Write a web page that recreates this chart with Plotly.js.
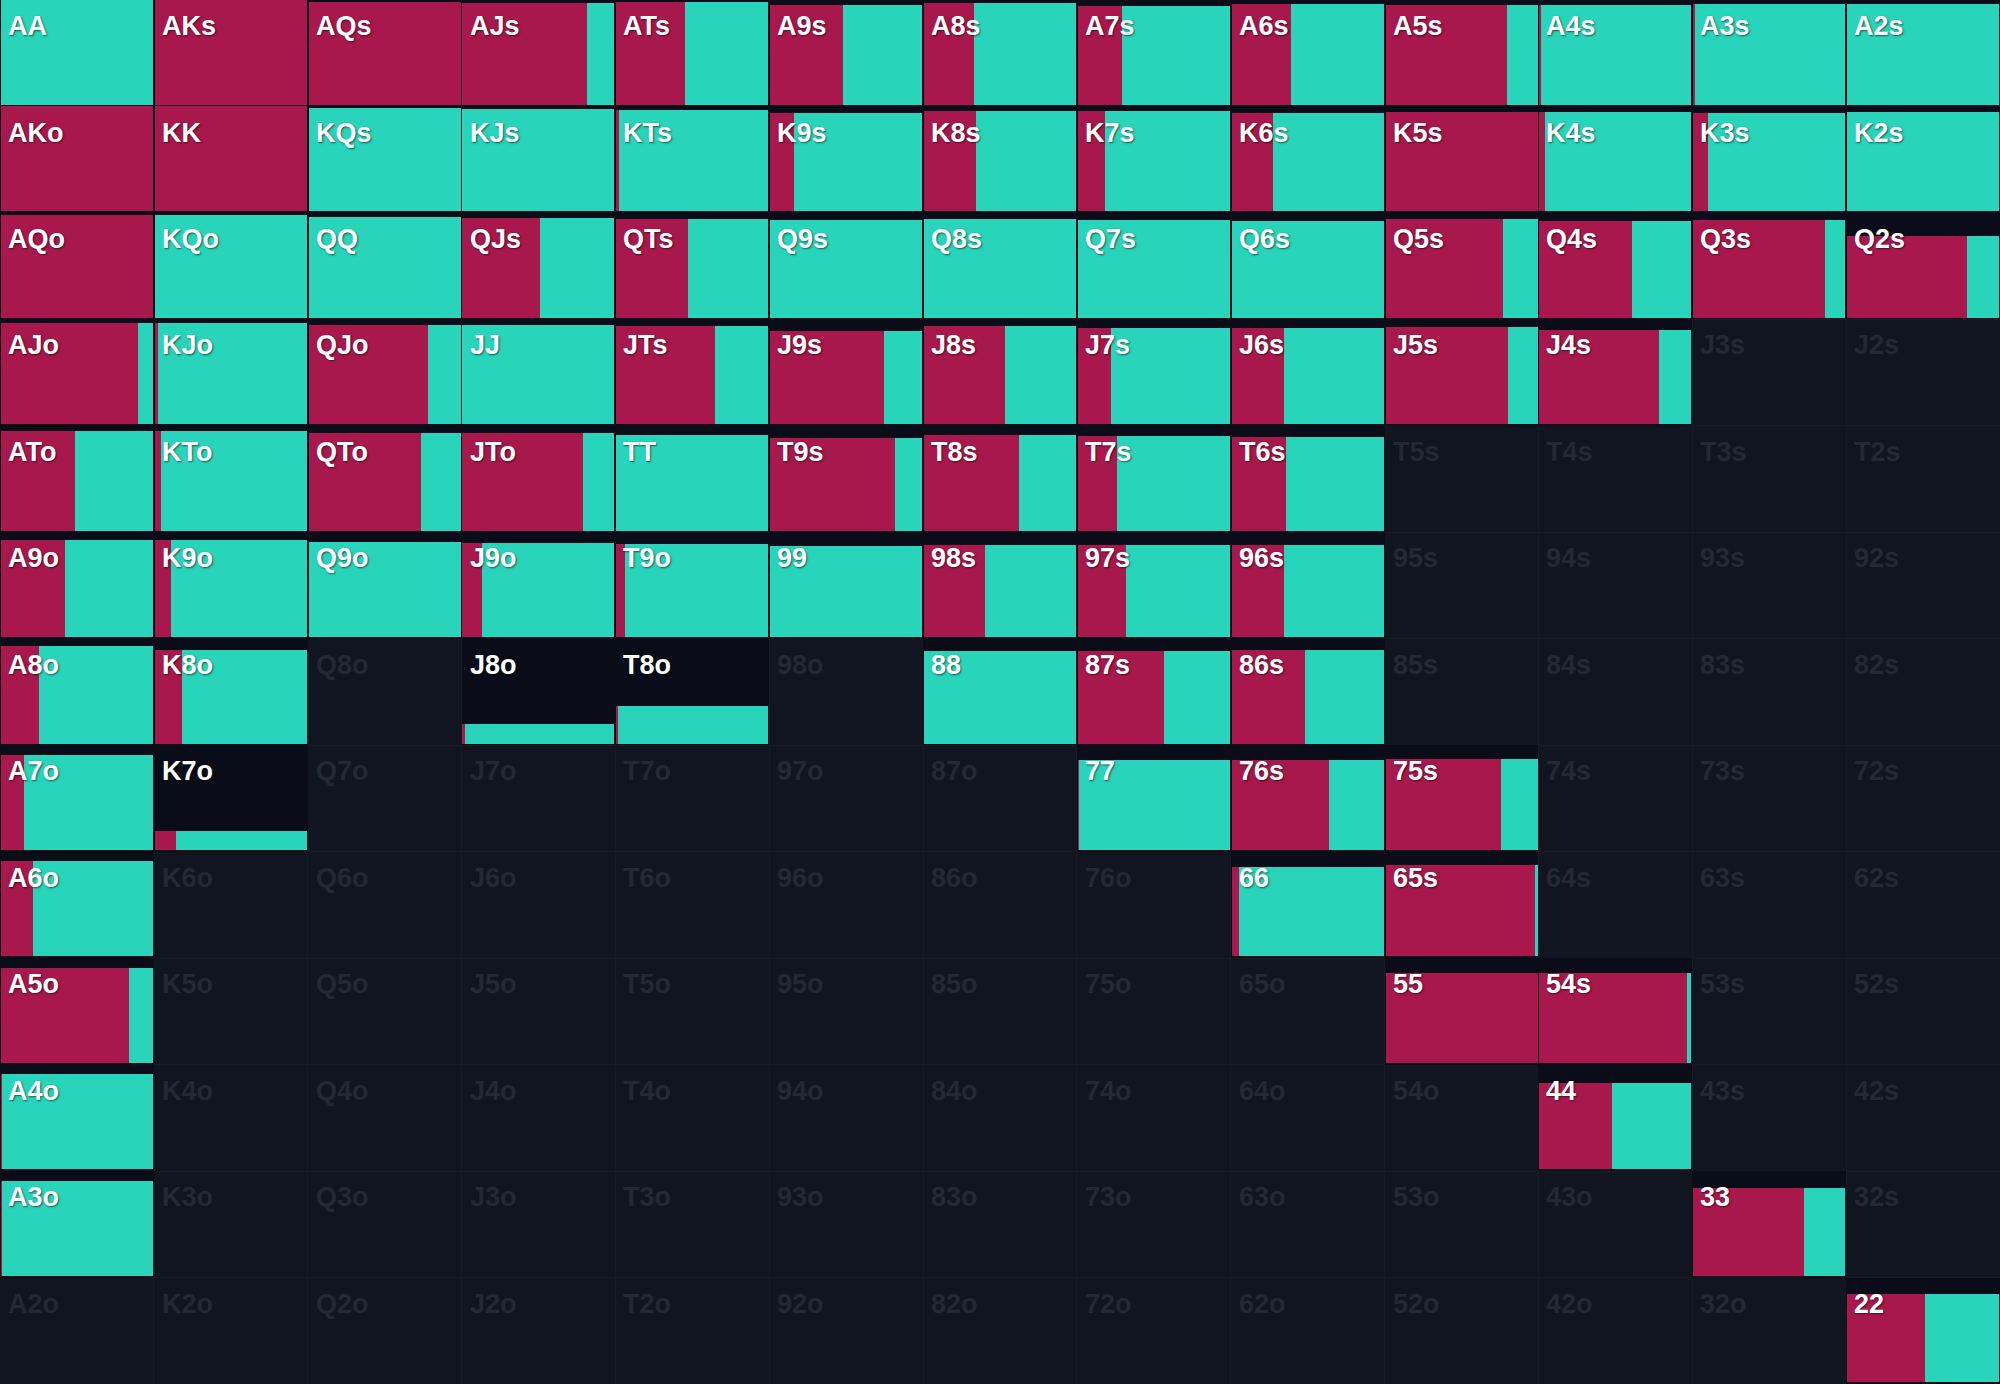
<!DOCTYPE html>
<html><head><meta charset="utf-8">
<script src="https://cdn.plot.ly/plotly-3.0.1.min.js"></script>
<style>html,body{margin:0;padding:0;background:#101520;}#chart{width:2000px;height:1384px;}</style>
</head><body><div id="chart"></div>
<script>
// Rank order of the 13x13 hand grid (rows and columns)
const ranks = ['A','K','Q','J','T','9','8','7','6','5','4','3','2'];

// Share of the hand that is played (bar height), 0 = not in range
const playFreq = [
  [1.00,1.00,0.98,0.97,0.98,0.95,0.97,0.94,0.96,0.95,0.95,0.96,0.96],
  [1.00,1.00,0.99,0.98,0.97,0.94,0.96,0.96,0.94,0.95,0.95,0.94,0.95],
  [0.98,0.98,0.96,0.95,0.94,0.93,0.94,0.93,0.92,0.94,0.92,0.93,0.78],
  [0.97,0.97,0.95,0.95,0.94,0.89,0.94,0.92,0.92,0.93,0.90,0,0],
  [0.95,0.95,0.93,0.93,0.91,0.88,0.91,0.90,0.89,0,0,0,0],
  [0.93,0.93,0.91,0.90,0.89,0.87,0.88,0.88,0.88,0,0,0,0],
  [0.93,0.89,0,0.19,0.36,0,0.88,0.88,0.89,0,0,0,0],
  [0.91,0.18,0,0,0,0,0,0.86,0.86,0.87,0,0,0],
  [0.91,0,0,0,0,0,0,0,0.85,0.87,0,0,0],
  [0.91,0,0,0,0,0,0,0,0,0.86,0.86,0,0],
  [0.91,0,0,0,0,0,0,0,0,0,0.82,0,0],
  [0.91,0,0,0,0,0,0,0,0,0,0,0.84,0],
  [0,0,0,0,0,0,0,0,0,0,0,0,0.84]
];

// Share of the played part that is a raise (red); the rest is a call (teal)
const raiseShare = [
  [0,1,1,0.82,0.45,0.48,0.33,0.29,0.39,0.80,0.01,0.01,0],
  [1,1,0,0,0.015,0.16,0.34,0.18,0.27,1,0.04,0.10,0],
  [1,0,0,0.51,0.47,0,0,0,0,0.77,0.61,0.87,0.79],
  [0.90,0.02,0.785,0,0.65,0.75,0.535,0.22,0.345,0.805,0.79,0,0],
  [0.49,0.04,0.74,0.79,0,0.82,0.625,0.255,0.36,0,0,0,0],
  [0.42,0.11,0,0.13,0.06,0,0.40,0.32,0.345,0,0,0,0],
  [0.25,0.18,0,0.015,0.01,0,0,0.57,0.48,0,0,0,0],
  [0.15,0.14,0,0,0,0,0,0.01,0.64,0.76,0,0,0],
  [0.21,0,0,0,0,0,0,0,0.05,0.98,0,0,0],
  [0.84,0,0,0,0,0,0,0,0,1,0.97,0,0],
  [0.01,0,0,0,0,0,0,0,0,0,0.48,0,0],
  [0.01,0,0,0,0,0,0,0,0,0,0,0.73,0],
  [0,0,0,0,0,0,0,0,0,0,0,0,0.51]
];

const RED = '#A8184D', TEAL = '#28D5BA', CELL_BG = '#0a0d17', PAGE_BG = '#101520';
const gapY = 0.016, gapX = 0.006;

function handName(i, j) {
  if (i === j) return ranks[i] + ranks[i];
  if (j > i) return ranks[i] + ranks[j] + 's';
  return ranks[j] + ranks[i] + 'o';
}

const bg = {base:[], x:[], y:[], w:[]};
const rd = {base:[], x:[], y:[], w:[]};
const tl = {base:[], x:[], y:[], w:[]};
const annotations = [];

for (let i = 0; i < 13; i++) {
  for (let j = 0; j < 13; j++) {
    const f = playFreq[i][j];
    const r = raiseShare[i][j];
    const inRange = f > 0;
    if (inRange) {
      bg.base.push(j); bg.x.push(1); bg.y.push(i + 0.5); bg.w.push(1);
      const h = f * (1 - gapY);
      const yc = i + 1 - gapY - h / 2;
      const span = 1 - 2 * gapX;
      rd.base.push(j + gapX); rd.x.push(r * span); rd.y.push(yc); rd.w.push(h);
      tl.base.push(j + gapX + r * span); tl.x.push((1 - r) * span); tl.y.push(yc); tl.w.push(h);
    }
    annotations.push({
      x: j, y: i + 0.245, xref: 'x', yref: 'y',
      text: handName(i, j), showarrow: false,
      xanchor: 'left', yanchor: 'middle', xshift: 7, borderpad: 0,
      font: {
        family: 'Liberation Sans, Arial, sans-serif', size: 27, weight: 'bold',
        color: inRange ? '#ffffff' : '#232833',
        shadow: inRange ? '1px 1px 2px rgba(0,0,0,0.55)' : 'none'
      }
    });
  }
}

function barTrace(d, color) {
  return {
    type: 'bar', orientation: 'h', base: d.base, x: d.x, y: d.y, width: d.w,
    marker: {color: color, line: {width: 0}}, hoverinfo: 'skip', showlegend: false
  };
}

const data = [barTrace(bg, CELL_BG), barTrace(rd, RED), barTrace(tl, TEAL)];

const layout = {
  width: 2000, height: 1384,
  margin: {l: 0, r: 0, t: 0, b: 0, pad: 0},
  paper_bgcolor: PAGE_BG, plot_bgcolor: PAGE_BG,
  barmode: 'overlay', bargap: 0, hovermode: false, showlegend: false,
  xaxis: {range: [0, 13], showgrid: true, gridcolor: '#161b27', gridwidth: 1, dtick: 1, tick0: 0,
          zeroline: false, showticklabels: false, ticks: '', fixedrange: true},
  yaxis: {range: [13, 0], showgrid: true, gridcolor: '#161b27', gridwidth: 1, dtick: 1, tick0: 0,
          zeroline: false, showticklabels: false, ticks: '', fixedrange: true},
  annotations: annotations
};

Plotly.newPlot('chart', data, layout, {displayModeBar: false, staticPlot: true});
</script>
</body></html>
